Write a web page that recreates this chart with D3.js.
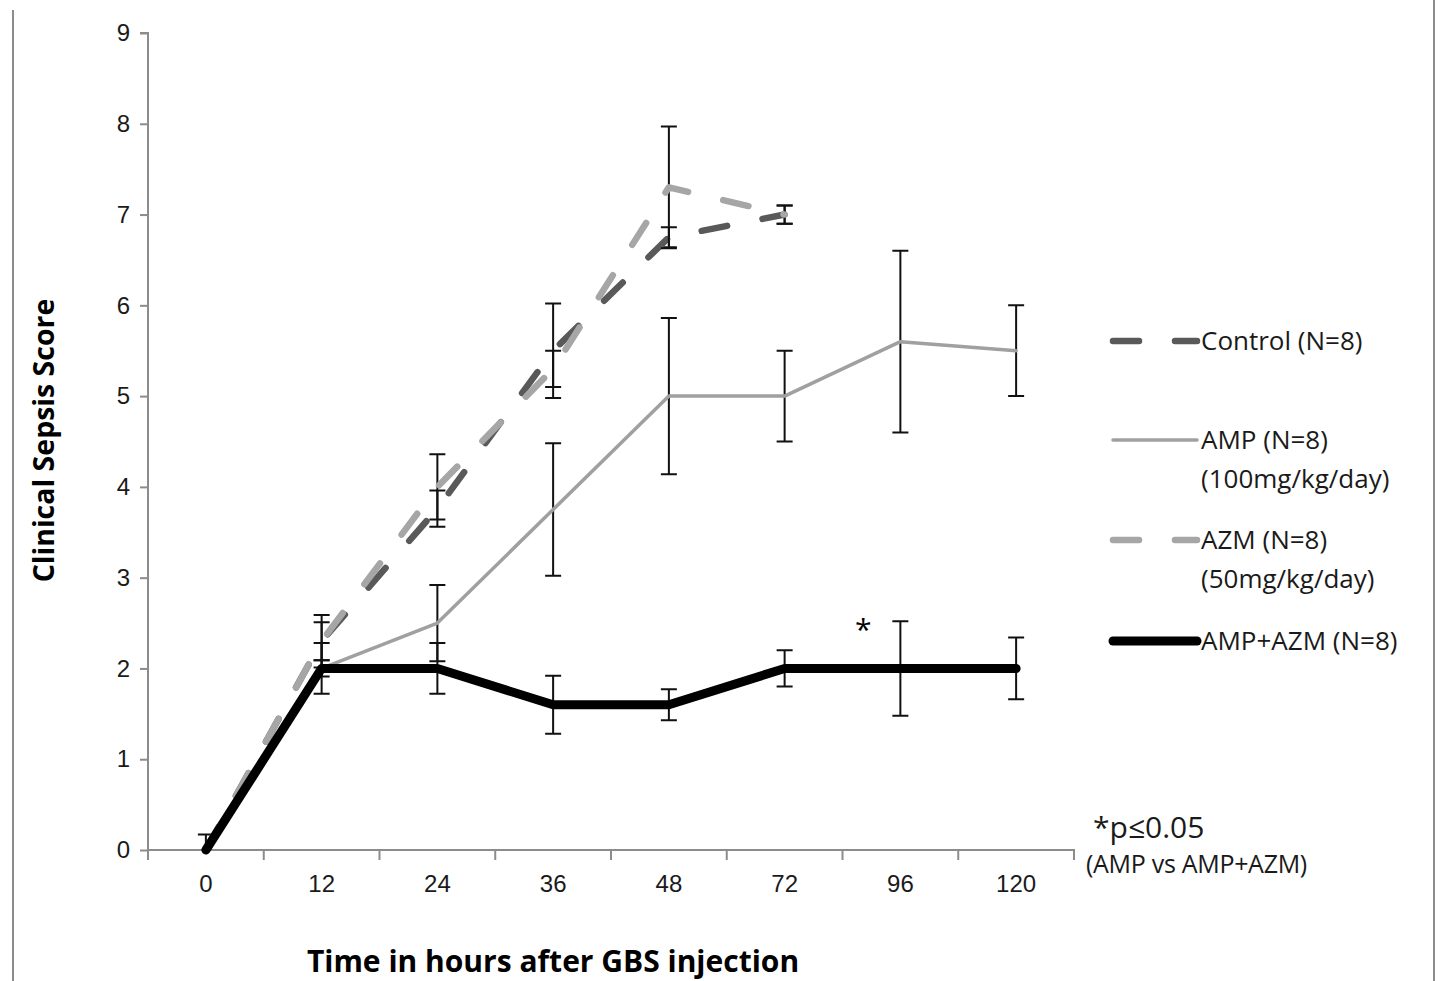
<!DOCTYPE html>
<html>
<head>
<meta charset="utf-8">
<script src="https://cdn.jsdelivr.net/npm/d3@7"></script>
<style>
  body { margin: 0; background: #fff; }
  svg { display: block; font-family: "Open Sans", Lato, sans-serif; }
</style>
</head>
<body>
<div id="app"></div>
<script>
// categories (hours after injection)
const hours = ["0", "12", "24", "36", "48", "72", "96", "120"];
const yTicks = [0, 1, 2, 3, 4, 5, 6, 7, 8, 9];

// series means and error (SEM)
const controlMean = [0, 2.3, 3.76, 5.5, 6.75, 7.0];
const controlErr  = [0.17, 0.29, 0.2, 0.52, 0.11, 0.1];
const ampMean = [0, 2.0, 2.5, 3.75, 5.0, 5.0, 5.6, 5.5];
const ampErr  = [0, 0.09, 0.42, 0.73, 0.86, 0.5, 1.0, 0.5];
const azmMean = [0, 2.3, 4.0, 5.3, 7.3, 7.0];
const azmErr  = [0, 0.21, 0.36, 0.2, 0.67, 0.1];
const comboMean = [0, 2.0, 2.0, 1.6, 1.6, 2.0, 2.0, 2.0];
const comboErr  = [0, 0.28, 0.28, 0.32, 0.17, 0.2, 0.52, 0.34];

const legendLabels = [
    ["Control (N=8)"],
    ["AMP (N=8)", "(100mg/kg/day)"],
    ["AZM (N=8)", "(50mg/kg/day)"],
    ["AMP+AZM (N=8)"]
];

const width = 1440, height = 981;
const plot = {left: 148, right: 1074, top: 33, bottom: 850};

const svg = d3.select("#app").append("svg")
    .attr("width", width)
    .attr("height", height);

// outer frame lines (left / right)
svg.append("line").attr("x1", 13).attr("x2", 13).attr("y1", 10).attr("y2", height)
    .attr("stroke", "#8c8c8c").attr("stroke-width", 2);
svg.append("line").attr("x1", 1434).attr("x2", 1434).attr("y1", 0).attr("y2", height)
    .attr("stroke", "#8c8c8c").attr("stroke-width", 2);

const x = d3.scaleBand().domain(hours).range([plot.left, plot.right]);
const cx = d => x(d) + x.bandwidth() / 2;
const y = d3.scaleLinear().domain([0, 9]).range([plot.bottom, plot.top]);

// y axis
const yAxis = svg.append("g")
    .attr("transform", "translate(" + plot.left + ",0)")
    .call(d3.axisLeft(y).tickValues(yTicks).tickSize(8).tickPadding(10).tickFormat(d3.format("d")));
yAxis.select(".domain").attr("stroke", "#8c8c8c").attr("stroke-width", 2).attr("d", "M-8," + plot.top + "H0V" + plot.bottom);
yAxis.selectAll(".tick line").attr("stroke", "#8c8c8c").attr("stroke-width", 2);
yAxis.selectAll("text").attr("font-size", 24).attr("fill", "#1a1a1a");

// x axis: labels centred in bands, ticks on band edges
const xAxis = svg.append("g")
    .attr("transform", "translate(0," + plot.bottom + ")")
    .call(d3.axisBottom(x).tickSize(0).tickPadding(25));
xAxis.select(".domain").attr("stroke", "#8c8c8c").attr("stroke-width", 2)
    .attr("d", "M" + plot.left + ",0H" + plot.right + "V10");
xAxis.selectAll("text").attr("font-size", 24).attr("fill", "#1a1a1a");
xAxis.selectAll(".edge")
    .data(hours)
    .enter().append("line")
    .attr("x1", d => x(d)).attr("x2", d => x(d))
    .attr("y1", 0).attr("y2", 10)
    .attr("stroke", "#8c8c8c").attr("stroke-width", 2);

// axis titles
svg.append("text")
    .attr("transform", "translate(54," + ((plot.top + plot.bottom) / 2 - 1) + ") rotate(-90)")
    .attr("text-anchor", "middle")
    .attr("font-size", 28.5).attr("font-weight", "bold")
    .text("Clinical Sepsis Score");
svg.append("text")
    .attr("x", 553).attr("y", 972)
    .attr("text-anchor", "middle")
    .attr("font-size", 30).attr("font-weight", "bold")
    .text("Time in hours after GBS injection");

const series = [
    {mean: controlMean, err: controlErr, color: "#595959", width: 6.5, dash: "26 36"},
    {mean: ampMean, err: ampErr, color: "#a0a0a0", width: 3.5, dash: null},
    {mean: azmMean, err: azmErr, color: "#a6a6a6", width: 6.5, dash: "26 36"},
    {mean: comboMean, err: comboErr, color: "#000000", width: 9, dash: null}
];

const line = d3.line()
    .x((d, i) => cx(hours[i]))
    .y(d => y(d));

series.forEach(s => {
    const g = svg.append("g");
    const pts = s.mean.map((v, i) => ({h: hours[i], v: v, e: s.err[i]})).filter(p => p.e > 0);
    g.selectAll(".bar").data(pts).enter().append("path")
        .attr("d", p => {
            const x0 = cx(p.h), y1 = y(p.v + p.e), y2 = y(Math.max(0, p.v - p.e));
            let d = "M" + x0 + "," + y1 + "V" + y2 + "M" + (x0 - 8) + "," + y1 + "H" + (x0 + 8);
            if (p.v - p.e >= 0) d += "M" + (x0 - 8) + "," + y2 + "H" + (x0 + 8);
            return d;
        })
        .attr("fill", "none").attr("stroke", "#111").attr("stroke-width", 2);
    g.append("path")
        .datum(s.mean)
        .attr("d", line)
        .attr("fill", "none")
        .attr("stroke", s.color)
        .attr("stroke-width", s.width)
        .attr("stroke-linecap", "round")
        .attr("stroke-linejoin", "round")
        .attr("stroke-dasharray", s.dash);
});

// significance marker
svg.append("text").attr("x", cx("96") - 37).attr("y", 640)
    .attr("text-anchor", "middle").attr("font-size", 30).text("*");

// legend
const legendY = [341, 440, 540, 641];
series.forEach((s, i) => {
    svg.append("line")
        .attr("x1", 1113).attr("x2", 1197)
        .attr("y1", legendY[i]).attr("y2", legendY[i])
        .attr("stroke", s.color)
        .attr("stroke-width", s.width)
        .attr("stroke-linecap", "round")
        .attr("stroke-dasharray", s.dash);
    const t = svg.append("text")
        .attr("x", 1201).attr("y", legendY[i] + 9)
        .attr("font-size", 26).attr("fill", "#1a1a1a");
    legendLabels[i].forEach((l, j) => {
        t.append("tspan").attr("x", 1201).attr("dy", j === 0 ? 0 : 39).text(l);
    });
});

// p-value note
svg.append("text").attr("x", 1093).attr("y", 838)
    .attr("font-size", 30).attr("fill", "#1a1a1a").text("*p≤0.05");
svg.append("text").attr("x", 1086).attr("y", 873)
    .attr("font-size", 25).attr("fill", "#1a1a1a").attr("letter-spacing", -0.3).text("(AMP vs AMP+AZM)");
</script>
</body>
</html>
